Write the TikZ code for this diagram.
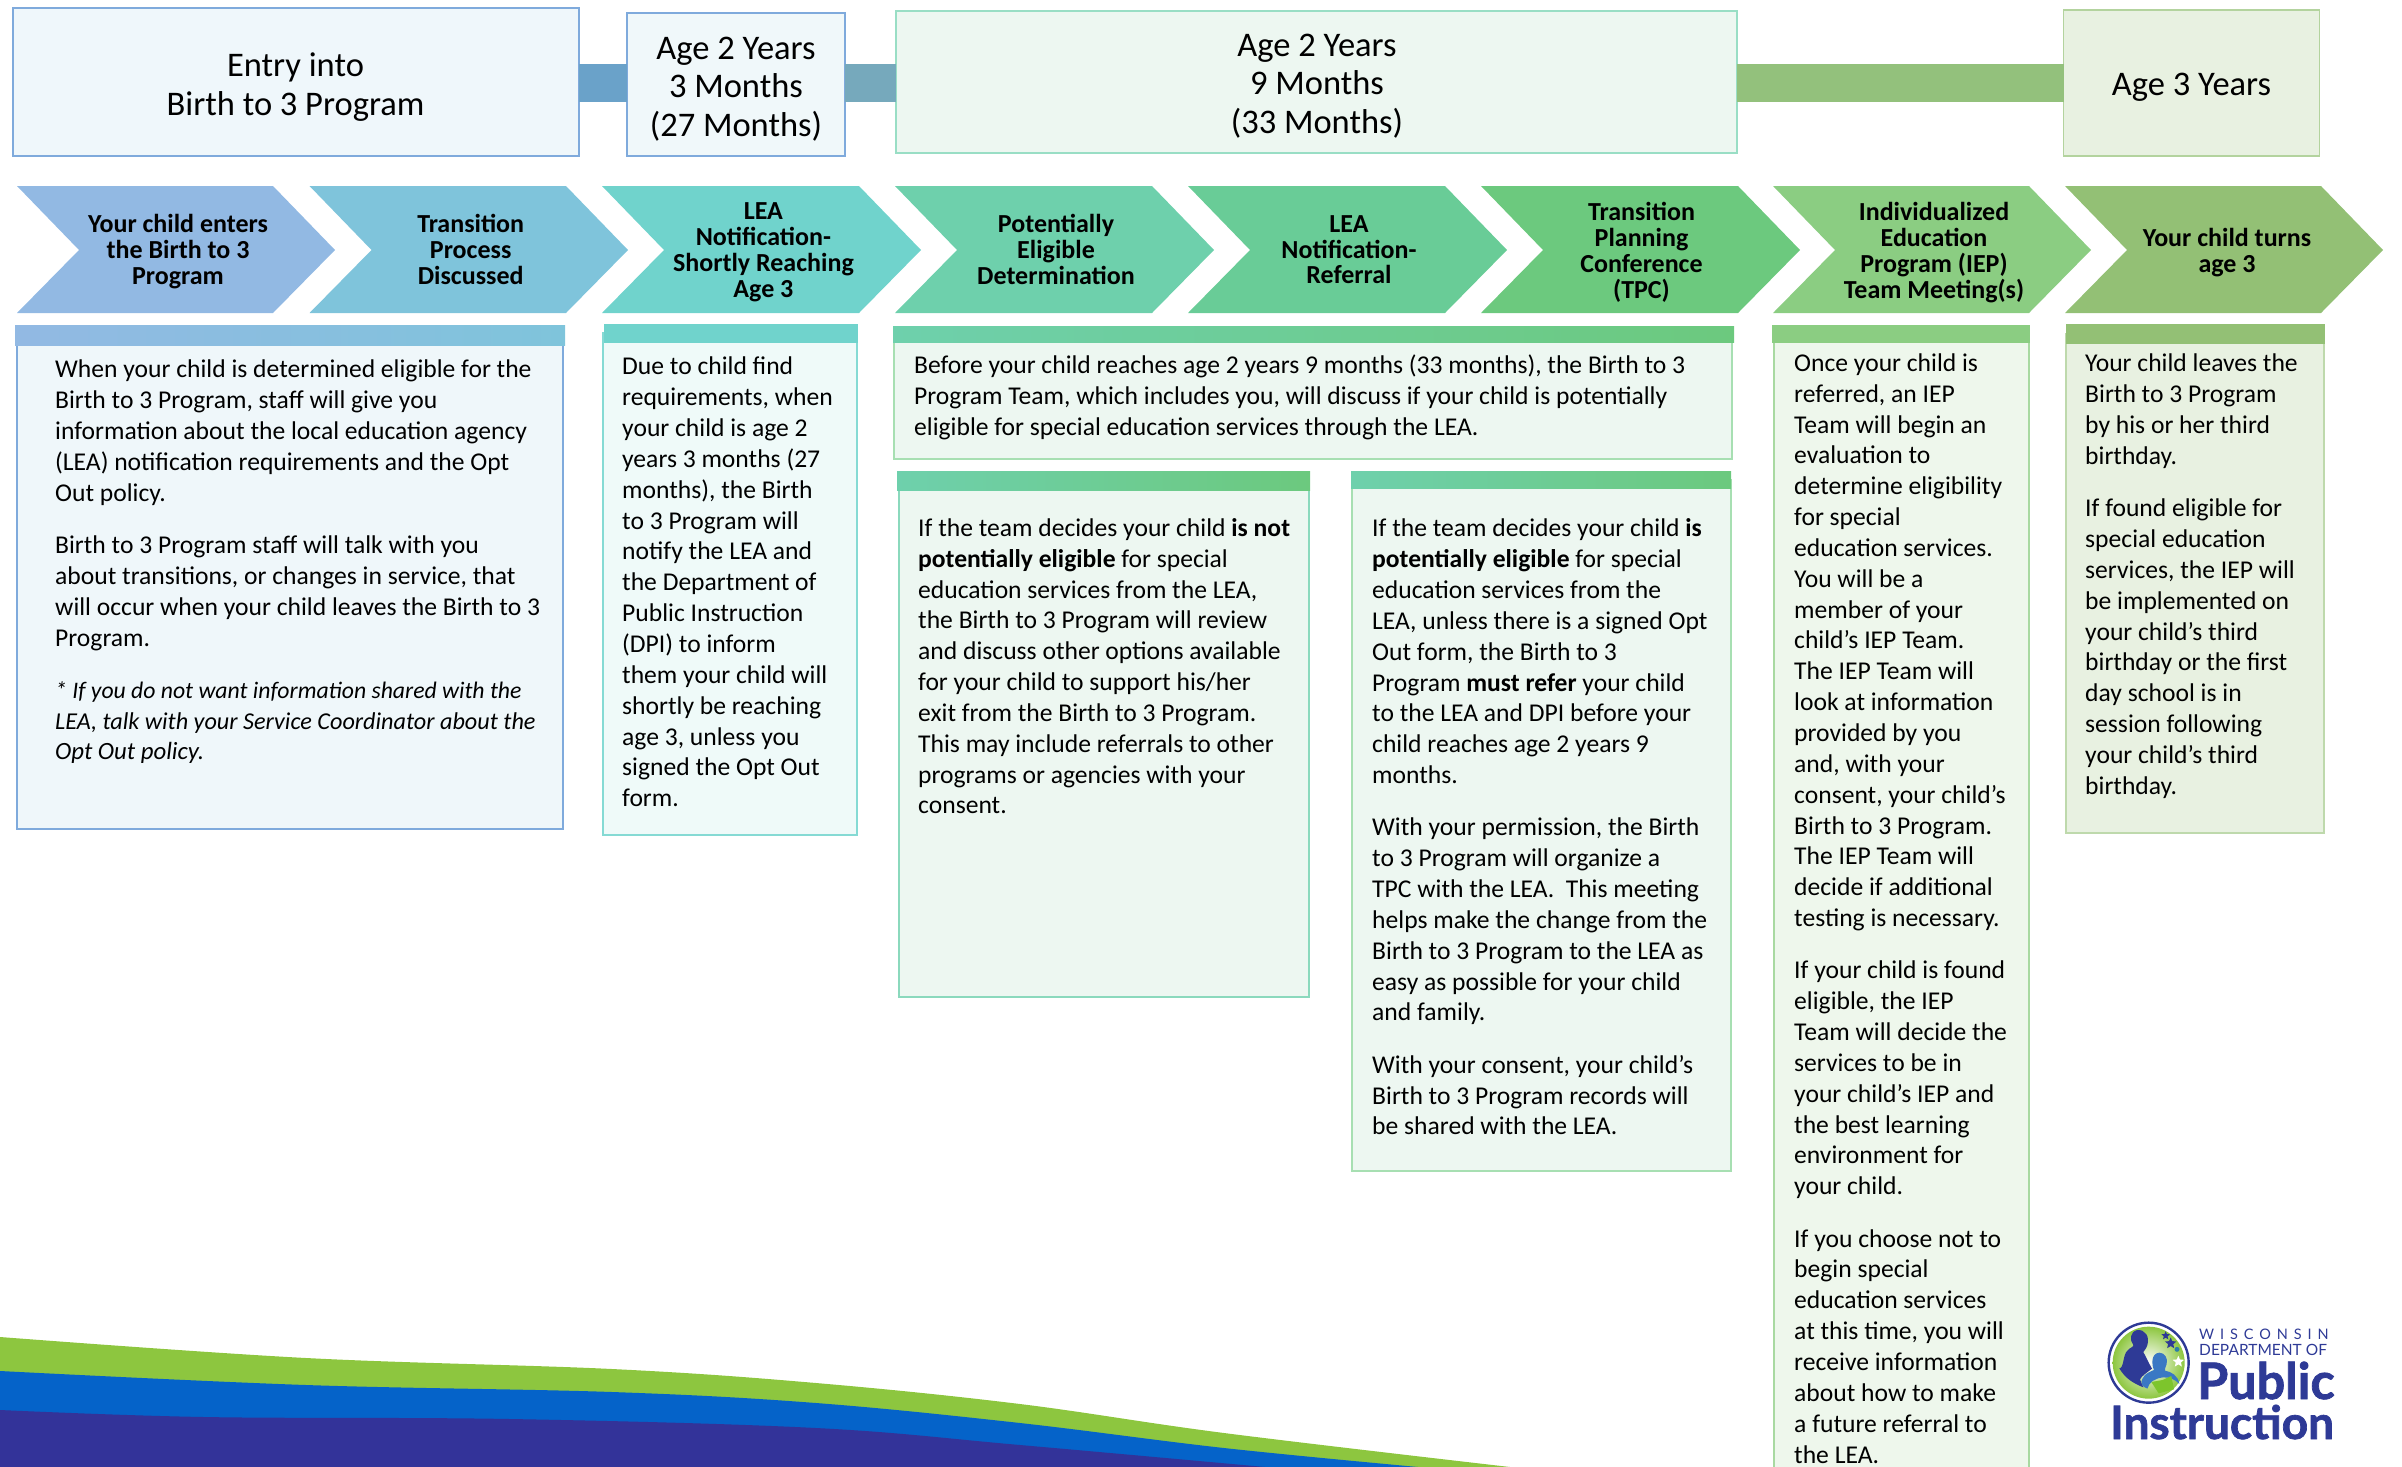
\documentclass[tikz,border=0pt]{standalone}
\usepackage{fontspec}
\setmainfont{Carlito}
\newfontfamily\logofont[FakeBold=1.5]{Lato Bold}
\newfontfamily\logolight{Lato}
\usetikzlibrary{shapes.geometric}
\definecolor{cA}{HTML}{92B9E3}
\definecolor{cB}{HTML}{7FC4DB}
\definecolor{cC}{HTML}{70D3CC}
\definecolor{cD}{HTML}{6ED0AC}
\definecolor{cE}{HTML}{69CC97}
\definecolor{cF}{HTML}{6CC97E}
\definecolor{cG}{HTML}{8BCD82}
\definecolor{cH}{HTML}{93C075}
\definecolor{edgeA}{HTML}{7FAADC}
\definecolor{logoblue}{HTML}{2E3A96}
\newcommand{\itbody}[1]{\fontsize{#1}{30.85}\selectfont\itshape}
\newcommand{\wsp}{\hspace{5.9pt}}
\tikzset{
  x=1pt,y=-1pt,
  topbox/.style={draw,line width=1.2pt,inner sep=0pt,outer sep=0pt},
  toptext/.style={inner sep=0pt,align=center,font=\fontsize{34.5}{38.5}\selectfont,execute at begin node=\strut,execute at end node=\strut},
  hdr/.style={inner sep=0pt,outer sep=0pt,anchor=north west},
  bodybox/.style={draw,line width=1.2pt,inner sep=0pt,outer sep=0pt,anchor=north west},
  bodytext/.style={inner sep=0pt,anchor=north west,align=left,font=\fontsize{25.6}{30.85}\selectfont},
  chevtext/.style={inner sep=0pt,align=center,font=\fontsize{26}{25.9}\selectfont\bfseries,execute at begin node=\strut,execute at end node=\strut},
  bar/.style={line width=38pt},
  logotext/.style={inner sep=0pt,anchor=base west,text=logoblue},
}
\newcommand{\chevshape}[5]{% name, left, notch depth, body width, colour
  \fill[#5] (#2,186) -- (#2+#4,186) -- (#2+#4+#3,250) -- (#2+#4,313) -- (#2,313) -- (#2+#3,250) -- cycle;
}
\newcommand{\hdrbox}[6]{% name,x1,y1,x2,y2,style
  \node[hdr,minimum width=#4-#2,minimum height=#5-#3,#6] (#1) at (#2,#3) {};
}
\begin{document}
\begin{tikzpicture}
\useasboundingbox (0,0) rectangle (2402,1467);
% waves
\fill[fill={rgb,255:red,141;green,198;blue,63}] plot[smooth,tension=0.6] coordinates {(0,1337) (306,1358) (612,1369) (816,1383) (1020,1404) (1224,1433) (1510,1467)} -- (0,1467) -- cycle;
\fill[fill={rgb,255:red,5;green,99;blue,201}] plot[smooth,tension=0.6] coordinates {(0,1371) (306,1385) (612,1392) (816,1403) (1020,1423) (1224,1448) (1418,1467)} -- (0,1467) -- cycle;
\fill[fill={rgb,255:red,51;green,51;blue,153}] plot[smooth,tension=0.6] coordinates {(0,1410) (204,1417) (510,1419) (816,1428) (1020,1445) (1265,1467)} -- (0,1467) -- cycle;
% top boxes
\coordinate (barlevel) at (0,83);
\node[topbox,fill={rgb,255:red,239;green,247;blue,251},draw=edgeA,minimum width=566pt,minimum height=148pt] (entry) at (296,82) {};
\node[topbox,fill={rgb,255:red,240;green,248;blue,250},draw=edgeA,minimum width=218pt,minimum height=143pt] (age27) at (736,84.5) {};
\node[topbox,fill={rgb,255:red,237;green,247;blue,241},draw=cD!70!white,minimum width=841pt,minimum height=142pt] (age33) at (1316.5,82) {};
\node[topbox,fill={rgb,255:red,232;green,241;blue,225},draw=cH!70!white,minimum width=256pt,minimum height=146pt] (age36) at (2191.5,83) {};
\node[toptext] (entryt) at (295.5,90) {Entry into\\Birth to 3 Program};
\node[toptext] (age27t) at (736,92.5) {Age 2 Years\\3 Months\\(27 Months)};
\node[toptext] (age33t) at (1317,89.5) {Age 2 Years\\9 Months\\(33 Months)};
\node[toptext] (age36t) at (2191.5,88) {Age 3 Years};
\draw[bar,draw={rgb,255:red,106;green,162;blue,201}] (entry.east |- barlevel) -- (age27.west |- barlevel);
\draw[bar,draw={rgb,255:red,118;green,169;blue,188}] (age27.east |- barlevel) -- (age33.west |- barlevel);
\draw[bar,draw={rgb,255:red,147;green,193;blue,124}] (age33.east |- barlevel) -- (age36.west |- barlevel);
% chevrons
\chevshape{c1}{17}{62}{256}{cA}
\chevshape{c2}{309.5}{62}{256.5}{cB}
\chevshape{c3}{602}{62}{257}{cC}
\chevshape{c4}{895}{62}{257}{cD}
\chevshape{c5}{1188}{62}{257}{cE}
\chevshape{c6}{1481}{62}{257}{cF}
\chevshape{c7}{1773}{62}{256}{cG}
\chevshape{c8}{2065}{62}{256}{cH}
\node[chevtext] (t1) at (178,253.5) {Your child enters\\the Birth to 3\\Program};
\node[chevtext] (t2) at (470.7,253.5) {Transition\\Process\\Discussed};
\node[chevtext] (t3) at (763.4,254) {LEA\\Notification-\\Shortly Reaching\\Age 3};
\node[chevtext] (t4) at (1056,253.5) {Potentially\\Eligible\\Determination};
\node[chevtext] (t5) at (1349,253.5) {LEA\\Notification-\\Referral};
\node[chevtext] (t6) at (1641.5,254) {Transition\\Planning\\Conference\\(TPC)};
\node[chevtext] (t7) at (1934,254) {Individualized\\Education\\Program (IEP)\\Team Meeting(s)};
\node[chevtext] (t8) at (2227,254) {Your child turns\\age 3};
% body boxes
\node[bodybox,draw=edgeA,fill={rgb,255:red,239;green,247;blue,250},minimum width=546pt,minimum height=494pt] (b1) at (17,335) {};
\hdrbox{h1}{15}{325}{565}{345}{left color=cA,right color=cB}
\node[bodybox,draw=cC!85!white,fill={rgb,255:red,239;green,250;blue,249},minimum width=254pt,minimum height=502pt] (b2) at (603,333) {};
\hdrbox{h2}{604}{324}{858}{343}{fill=cC}
\node[bodybox,draw=cF!60!white,fill={rgb,255:red,237;green,247;blue,241},minimum width=838pt,minimum height=124pt] (b3) at (894,335) {};
\hdrbox{h3}{893}{326}{1734}{342}{left color=cD,right color=cF}
\node[bodybox,draw=cD!80!white,fill={rgb,255:red,237;green,247;blue,241},minimum width=410pt,minimum height=517pt] (b4) at (899,480) {};
\hdrbox{h4}{897}{471}{1310}{490}{left color=cD,right color=cF}
\node[bodybox,draw=cF!60!white,fill={rgb,255:red,237;green,247;blue,241},minimum width=379pt,minimum height=691pt] (b5) at (1352,480) {};
\hdrbox{h5}{1351}{471}{1731}{488}{left color=cD,right color=cF}
\node[bodybox,draw=cG!75!white,fill={rgb,255:red,238;green,247;blue,236},minimum width=255pt,minimum height=1150pt] (b6) at (1774,335) {};
\hdrbox{h6}{1772}{325}{2030}{343}{fill=cG}
\node[bodybox,draw=cH!60!white,fill={rgb,255:red,232;green,241;blue,225},minimum width=258pt,minimum height=499pt] (b7) at (2066,334) {};
\hdrbox{h7}{2066}{324}{2325}{344}{fill=cH}
% body text
\node[bodytext] (x1) at (55,356) {\strut When your child is determined eligible for the\\Birth to 3 Program, staff will give you\\information about the local education agency\\(LEA) notification requirements and the Opt\\Out policy.\\[21.4pt]Birth to 3 Program staff will talk with you\\about transitions, or changes in service, that\\will occur when your child leaves the Birth to 3\\Program.\\[21.4pt]\itbody{23.7}* If you do not want information shared with the\\\itbody{24.2}LEA, talk with your Service Coordinator about the\\\itbody{24.8}Opt Out policy.};
\node[bodytext] (x2) at (622,353) {\strut Due to child find\\requirements, when\\your child is age 2\\years 3 months (27\\months), the Birth\\to 3 Program will\\notify the LEA and\\the Department of\\Public Instruction\\(DPI) to inform\\them your child will\\shortly be reaching\\age 3, unless you\\signed the Opt Out\\form.};
\node[bodytext] (x3) at (914,352) {\strut Before your child reaches age 2 years 9 months (33 months), the Birth to 3\\Program Team, which includes you, will discuss if your child is potentially\\eligible for special education services through the LEA.};
\node[bodytext] (x4) at (918,514.5) {\strut If the team decides your child \textbf{is not}\\\textbf{potentially eligible} for special\\education services from the LEA,\\the Birth to 3 Program will review\\and discuss other options available\\for your child to support his/her\\exit from the Birth to 3 Program.\\This may include referrals to other\\programs or agencies with your\\consent.};
\node[bodytext] (x5) at (1372,515) {\strut If the team decides your child \textbf{is}\\\textbf{potentially eligible} for special\\education services from the\\LEA, unless there is a signed Opt\\Out form, the Birth to 3\\Program \textbf{must refer} your child\\to the LEA and DPI before your\\child reaches age 2 years 9\\months.\\[21.4pt]With your permission, the Birth\\to 3 Program will organize a\\TPC with the LEA.\ \ This meeting\\helps make the change from the\\Birth to 3 Program to the LEA as\\easy as possible for your child\\and family.\\[21.4pt]With your consent, your child’s\\Birth to 3 Program records will\\be shared with the LEA.};
\node[bodytext] (x6) at (1794,349.5) {\strut Once your child is\\referred, an IEP\\Team will begin an\\evaluation to\\determine eligibility\\for special\\education services.\\You will be a\\member of your\\child’s IEP Team.\\The IEP Team will\\look at information\\provided by you\\and, with your\\consent, your child’s\\Birth to 3 Program.\\The IEP Team will\\decide if additional\\testing is necessary.\\[21.4pt]If your child is found\\eligible, the IEP\\Team will decide the\\services to be in\\your child’s IEP and\\the best learning\\environment for\\your child.\\[21.4pt]If you choose not to\\begin special\\education services\\at this time, you will\\receive information\\about how to make\\a future referral to\\the LEA.};
\node[bodytext] (x7) at (2085,350) {\strut Your child leaves the\\Birth to 3 Program\\by his or her third\\birthday.\\[21.4pt]If found eligible for\\special education\\services, the IEP will\\be implemented on\\your child’s third\\birthday or the first\\day school is in\\session following\\your child’s third\\birthday.};
% logo
\begin{scope}[shift={(2050,1290)},x=0.3333pt,y=-0.3333pt]
  \shade[inner color=white,outer color={rgb,255:red,141;green,198;blue,63}] (296,218) circle[radius=36pt];
  \draw[logoblue,line width=2.4pt] (296,218) circle[radius=40pt];
  \fill[logoblue] (262,120) .. controls (285,118) and (300,140) .. (292,165) .. controls (288,178) and (282,182) .. (280,186) .. controls (290,205) and (298,222) .. (306,236) .. controls (290,248) and (275,258) .. (270,268) -- (280,292) .. controls (250,280) and (225,265) .. (208,235) .. controls (222,235) and (218,195) .. (232,182) .. controls (240,172) and (250,172) .. (250,165) .. controls (238,150) and (240,125) .. (262,120) -- cycle;
  \fill[fill={rgb,255:red,58;green,120;blue,196}] (328,188) .. controls (345,188) and (354,205) .. (350,222) .. controls (348,232) and (342,238) .. (345,242) .. controls (365,245) and (385,258) .. (388,282) .. controls (375,268) and (360,262) .. (340,262) .. controls (315,265) and (298,275) .. (292,296) .. controls (275,290) and (270,278) .. (278,265) .. controls (285,250) and (300,245) .. (312,240) .. controls (305,225) and (302,190) .. (328,188) -- cycle;
  \fill[fill={rgb,255:red,125;green,197;blue,44}] (304,276) -- (338,270) -- (364,258) -- (372,298) -- (326,310) -- cycle;
  \node[star,star points=5,star point ratio=2.2,fill=logoblue,inner sep=0pt,minimum size=9pt] (s1) at (347,137) {};
  \node[star,star points=5,star point ratio=2.2,fill=logoblue,inner sep=0pt,minimum size=12pt] (s2) at (362,160) {};
  \node[circle,fill={rgb,255:red,46;green,127;blue,166},inner sep=0pt,minimum size=5pt] (s3) at (381,178) {};
  \node[star,star points=5,star point ratio=2.2,fill=white,inner sep=0pt,minimum size=12pt] (s4) at (385,215) {};
\end{scope}
\node[logotext,font=\logolight\fontsize{14.5}{14.5}\selectfont] (l1) at (2199,1339.5) {W\wsp I\wsp S\wsp C\wsp O\wsp N\wsp S\wsp I\wsp N};
\node[logotext,font=\logolight\fontsize{15.5}{15.5}\selectfont] (l2) at (2199,1355.5) {DEPARTMENT OF};
\node[logotext,font=\logofont\fontsize{50.3}{50.3}\selectfont] (l3) at (2197,1399) {Public};
\node[logotext,font=\logofont\fontsize{46}{46}\selectfont] (l4) at (2110,1439) {Instruction};
\end{tikzpicture}
\end{document}
